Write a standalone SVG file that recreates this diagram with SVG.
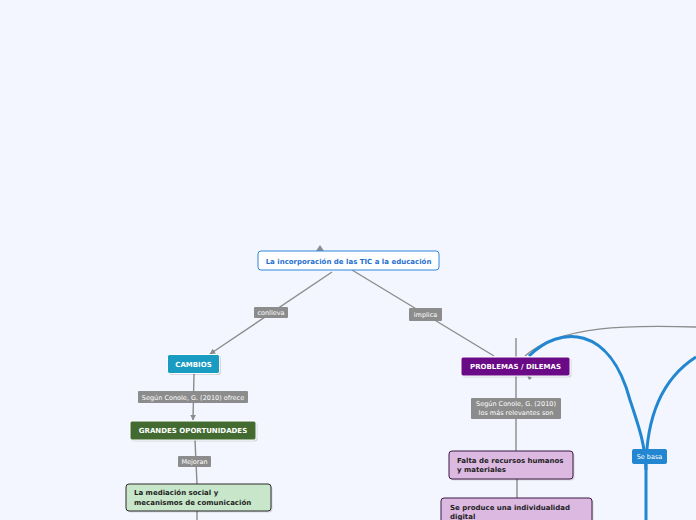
<svg xmlns="http://www.w3.org/2000/svg" width="696" height="520" viewBox="0 0 696 520">
<defs>
<style>
text{font-family:"DejaVu Sans","Verdana",sans-serif;}
.lbl rect{fill:#8c8c8c;}
.lbl text{fill:#ffffff;font-size:6.5px;text-anchor:middle;}
.node text{font-size:7px;font-weight:bold;}
.wt{fill:#ffffff;text-anchor:middle;}
.dk{fill:#1e1e1e;}
.gl{stroke:#8c8c8c;stroke-width:1.4;fill:none;}
.bl{stroke:#2287d0;stroke-width:3;fill:none;}
.sh{fill:#000000;opacity:0.12;}
</style>
<marker id="ah" viewBox="0 0 10 10" refX="9" refY="5" markerWidth="6" markerHeight="6" orient="auto-start-reverse" markerUnits="userSpaceOnUse">
<path d="M0,0 L10,5 L0,10 z" fill="#8c8c8c"/>
</marker>
</defs>
<rect width="696" height="520" fill="#f3f6fe"/>
<g id="connectors">
<path class="gl" d="M332,272 L210,354" marker-end="url(#ah)"/>
<path class="gl" d="M352,270 L494,356"/>
<path class="gl" d="M194,373 L193,420" marker-end="url(#ah)"/>
<path class="gl" d="M195,440 L197,484"/>
<path class="gl" d="M197,511 L197,520"/>
<path class="gl" d="M516,338 L516,451"/>
<path class="gl" d="M517,479 L517,498"/>
<path class="gl" d="M696,327 C630,325 560,325 525,356"/>
<path d="M527,375 L532,378 L529,380 z" fill="#8c8c8c"/>
<path class="bl" d="M529,356 C560,325 610,325 630,400 C640,430 645,445 646,470 L646,520"/>
<path class="bl" d="M646,470 C646,420 660,380 696,357"/>
<path d="M316,251 L320,245 L324,251 z" fill="#8c8c8c"/>
<g class="lbl"><rect x="254" y="307" width="34" height="11" rx="1"/><text x="271" y="315">conlleva</text></g>
<g class="lbl"><rect x="409" y="308" width="33" height="13" rx="1"/><text x="425.5" y="317">implica</text></g>
<g class="lbl"><rect x="138" y="391" width="110" height="12" rx="1"/><text x="193" y="399.5">Según Conole, G. (2010) ofrece</text></g>
<g class="lbl"><rect x="178" y="456" width="33" height="11" rx="1"/><text x="194.5" y="464">Mejoran</text></g>
<g class="lbl"><rect x="471" y="398" width="90" height="21" rx="1"/><text x="516" y="406">Según Conole, G. (2010)</text><text x="516" y="415">los más relevantes son</text></g>
<g><rect x="632" y="449" width="35" height="15" rx="2" fill="#2287d0"/><text x="649.5" y="459" fill="#ffffff" font-size="6.5" text-anchor="middle">Se basa</text></g>
</g>
<g id="root" class="node"><rect x="258" y="251" width="181" height="19" rx="3" fill="#ffffff" stroke="#2f86e0" stroke-width="1"/><text x="348.5" y="263.5" fill="#1f6fd0" text-anchor="middle">La incorporación de las TIC a la educación</text></g>
<g id="cambios" class="node"><rect class="sh" x="169" y="356" width="52" height="19" rx="2"/><rect x="167.5" y="354.5" width="52" height="19" rx="2" fill="#1a9bc2" stroke="#ffffff" stroke-width="1"/><text class="wt" x="193.5" y="366.5">CAMBIOS</text></g>
<g id="oportunidades" class="node"><rect class="sh" x="131.5" y="422.5" width="126" height="19" rx="2"/><rect x="130" y="421" width="126" height="19" rx="2" fill="#436b31" stroke="#ffffff" stroke-width="1"/><text class="wt" x="193" y="433">GRANDES OPORTUNIDADES</text></g>
<g id="mediacion" class="node"><rect class="sh" x="127.5" y="485.5" width="145" height="27" rx="3"/><rect x="126" y="484" width="145" height="27" rx="3" fill="#c8e6ca" stroke="#2b2b2b" stroke-width="1"/><text class="dk" x="134" y="495">La mediación social y</text><text class="dk" x="134" y="504.5">mecanismos de comunicación</text></g>
<g id="problemas" class="node"><rect class="sh" x="462.5" y="358.5" width="109" height="19" rx="2"/><rect x="461" y="357" width="109" height="19" rx="2" fill="#6a0a86" stroke="#ffffff" stroke-width="1"/><text class="wt" x="515.5" y="369">PROBLEMAS / DILEMAS</text></g>
<g id="falta" class="node"><rect class="sh" x="450.5" y="452.5" width="124" height="28" rx="3"/><rect x="449" y="451" width="124" height="28" rx="3" fill="#dbb9e1" stroke="#3b1942" stroke-width="1"/><text class="dk" x="457" y="463">Falta de recursos humanos</text><text class="dk" x="457" y="472">y materiales</text></g>
<g id="individualidad" class="node"><rect class="sh" x="442.5" y="499.5" width="151" height="30" rx="3"/><rect x="441" y="498" width="151" height="30" rx="3" fill="#dbb9e1" stroke="#3b1942" stroke-width="1"/><text class="dk" x="450" y="510">Se produce una individualidad</text><text class="dk" x="450" y="519">digital</text></g>
</svg>
